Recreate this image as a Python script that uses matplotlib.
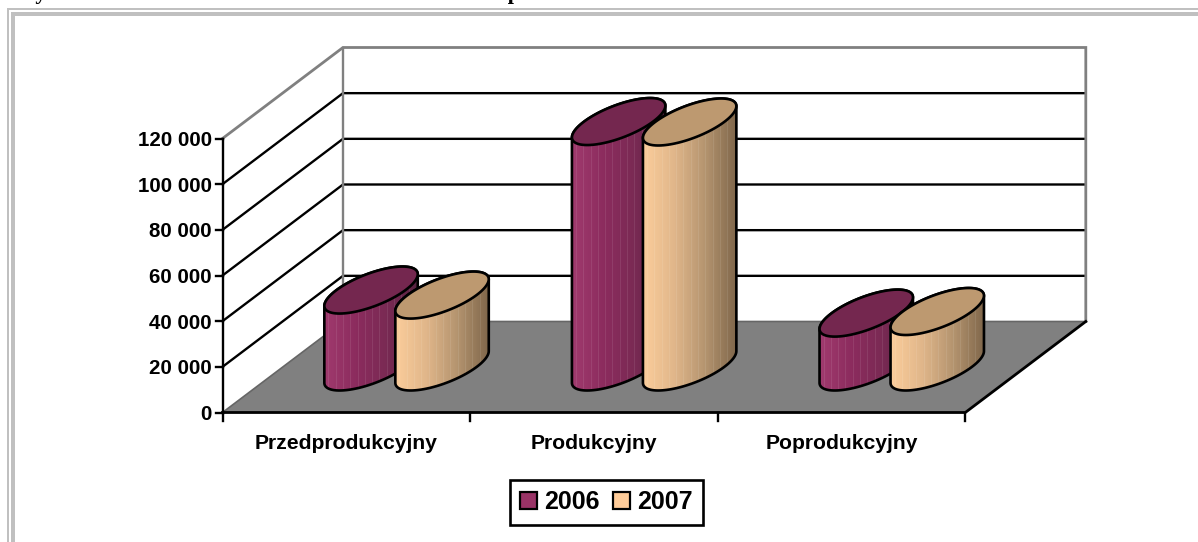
#!/usr/bin/env python3
"""Wykres 3D (walce) przerysowany w matplotlib, rzut liczony recznie."""

import numpy as np
import matplotlib
matplotlib.use('Agg')
import matplotlib.pyplot as plt
from matplotlib.colors import LinearSegmentedColormap
from matplotlib.patches import Patch, PathPatch, Polygon, Rectangle
from matplotlib.path import Path

plt.rcParams['font.family'] = ['Liberation Sans', 'DejaVu Sans']

categories = ['Przedprodukcyjny', 'Produkcyjny', 'Poprodukcyjny']
years = ['2006', '2007']
values_2006 = [33700, 107500, 23600]
values_2007 = [31500, 107300, 24300]
y_ticks = [0, 20000, 40000, 60000, 80000, 100000, 120000]
y_tick_labels = ['0', '20 000', '40 000', '60 000', '80 000', '100 000', '120 000']
title_text = 'Wykres 1. Struktura nakładów na badania oraz ich podział na fazach w latach 2006 i 2007'

# rzut ukosny: piksele obrazka
X0, Y0 = 222.5, 412.5
CAT_W = 247.6
DEPTH_X, DEPTH_Y = 120.5, 91.0
PX_PER_UNIT = 274.0 / 120000
MAX_V = y_ticks[-1]

BAR_OFFSET = 35.5
RX, RDX, RDY = 34.5, 31.5, 23.5

LW = 1.7
GRAY = '#808080'


def project(cat, depth=0.0, value=0.0):
    return (X0 + cat * CAT_W + depth * DEPTH_X,
            Y0 - depth * DEPTH_Y - value * PX_PER_UNIT)


def ellipse(cx, cy, t):
    return cx + RX * np.cos(t) + RDX * np.sin(t), cy - RDY * np.sin(t)


def cylinder(ax, cx, value, cmap, top_color, z):
    _, cy0 = project(0, 0.5, 0)
    cy1 = cy0 - value * PX_PER_UNIT
    t0 = np.arctan2(RDX, RX)
    low = np.linspace(t0 + np.pi, t0 + 2 * np.pi, 60)
    up = np.linspace(t0, t0 + np.pi, 60)
    bx, by = ellipse(cx, cy0, low)
    ux, uy = ellipse(cx, cy1, up)
    outline = np.column_stack([np.r_[bx, ux], np.r_[by, uy]])
    body = PathPatch(Path(np.vstack([outline, outline[0]])), fc='none', ec='none', zorder=z)
    ax.add_patch(body)

    half = np.hypot(RX, RDX)
    grad = np.linspace(0, 1, 64).reshape(1, -1)
    im = ax.imshow(grad, cmap=cmap, aspect='auto', zorder=z,
                   extent=(cx - half, cx + half, cy0 + RDY, cy1 - RDY))
    im.set_clip_path(body)
    # jasne pionowe prazki
    stripes = ax.vlines(np.arange(cx - half + 4, cx + half - 2, 7.3), cy1 - RDY, cy0 + RDY,
                        color='white', alpha=0.09, lw=0.7, zorder=z)
    stripes.set_clip_path(body)

    ax.add_patch(Polygon(outline, closed=True, fc='none', ec='black', lw=1.9, zorder=z + 0.1,
                         joinstyle='round'))
    tt = np.linspace(0, 2 * np.pi, 120)
    tx, ty = ellipse(cx, cy1, tt)
    ax.add_patch(Polygon(np.column_stack([tx, ty]), closed=True, fc=top_color, ec='black',
                         lw=1.9, zorder=z + 0.2))


def main():
    fig = plt.figure(figsize=(11.98, 5.42), dpi=100)
    ax = fig.add_axes([0, 0, 1, 1])
    ax.axis('off')

    # ramka strony i uciety tytul
    ax.add_patch(Rectangle((7, 8), 1191, 1.7, fc='#c0c0c0', ec='none'))
    ax.add_patch(Rectangle((11, 12), 1187, 4, fc='#c0c0c0', ec='none'))
    ax.add_patch(Rectangle((7, 8), 2, 534, fc='#c0c0c0', ec='none'))
    ax.add_patch(Rectangle((11, 12), 4, 530, fc='#c0c0c0', ec='none'))
    ax.text(14, -0.5, title_text, family=['Liberation Serif'], weight='bold', fontsize=16,
            va='baseline', ha='left', color='black', clip_on=True)

    n = len(categories)
    fl = [project(0), project(n), project(n, 1), project(0, 1)]
    ax.add_patch(Polygon(fl, closed=True, fc=GRAY, ec='none', zorder=1))

    # siatka na scianach
    for v in y_ticks[1:-1]:
        ax.plot(*zip(project(0, 0, v), project(0, 1, v), project(n, 1, v)),
                color='black', lw=LW, zorder=2)
    ax.plot(*zip(project(0, 0, MAX_V), project(0, 1, MAX_V), project(n, 1, MAX_V), project(n, 1, 0)),
            color=GRAY, lw=2.0, zorder=2, solid_joinstyle='miter')
    ax.plot(*zip(project(0, 1, MAX_V), project(0, 1, 0)), color=GRAY, lw=1.7, zorder=2)
    ax.plot(*zip(project(0), project(0, 1), project(n, 1)), color='#666666', lw=1.2, zorder=2)

    # osie
    ax.plot(*zip(project(0, 0, MAX_V), project(0, 0, 0)), color='black', lw=LW, zorder=3)
    ax.plot(*zip(project(0), project(n), project(n, 1)), color='black', lw=2.0, zorder=3)
    for v, lab in zip(y_ticks, y_tick_labels):
        x, y = project(0, 0, v)
        ax.plot([x - 7, x], [y, y], color='black', lw=LW, zorder=3)
        ax.text(x - 10.5, y, lab, ha='right', va='center_baseline', fontsize=14.8, weight='bold')
    for i in range(n + 1):
        x, y = project(i)
        ax.plot([x, x], [y, y + 8], color='black', lw=LW, zorder=3)

    for i, cat in enumerate(categories):
        x, y = project(i + 0.5)
        ax.text(x, y + 29, cat, ha='center', va='center_baseline', fontsize=15.2, weight='bold')

    cm06 = LinearSegmentedColormap.from_list('c06', ['#a03a6e', '#8c2c5e', '#7a2a54', '#572240'])
    cm07 = LinearSegmentedColormap.from_list('c07', ['#fbcd9b', '#e0b68a', '#b4946f', '#80674b'])
    for i in range(n):
        cx, _ = project(i + 0.5, 0.5)
        z = 4 + i
        cylinder(ax, cx - BAR_OFFSET, values_2006[i], cm06, '#74274f', z)
        cylinder(ax, cx + BAR_OFFSET, values_2007[i], cm07, '#bd9970', z + 0.5)

    ax.set_xlim(0, 1198)
    ax.set_ylim(542, 0)

    handles = [Patch(fc='#993366', ec='black', lw=1.6, label=years[0]),
               Patch(fc='#FFCC99', ec='black', lw=1.6, label=years[1])]
    leg = ax.legend(handles=handles, ncol=2, loc='center', bbox_to_anchor=(606.5 / 1198, 1 - 502 / 542),
                    prop={'size': 18, 'weight': 'bold'}, frameon=True, fancybox=False,
                    framealpha=1, edgecolor='black', handlelength=0.68, handleheight=0.68,
                    handletextpad=0.28, columnspacing=0.55, borderpad=0.42, borderaxespad=0)
    leg.get_frame().set_linewidth(1.9)

    fig.savefig('out.png', dpi=100)
    plt.close(fig)


if __name__ == '__main__':
    main()
